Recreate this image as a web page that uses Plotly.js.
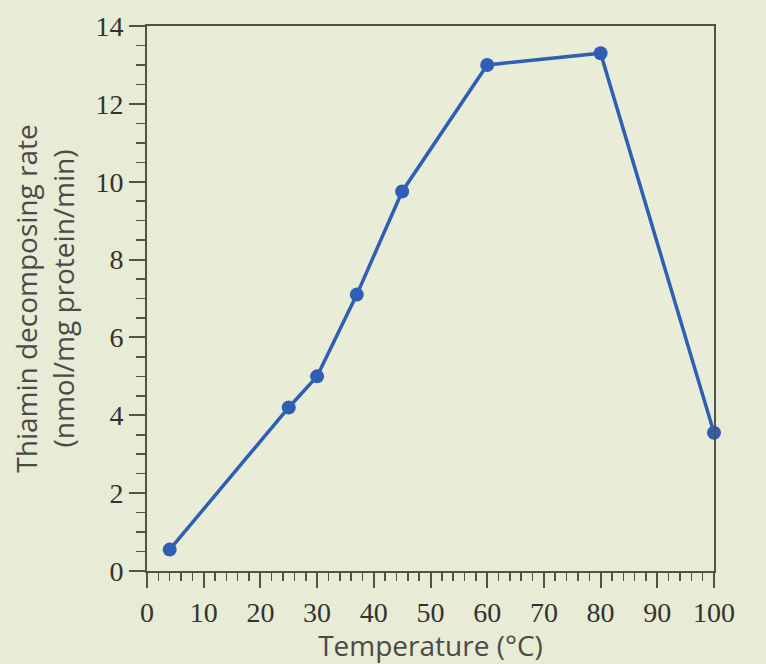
<!DOCTYPE html>
<html>
<head>
<meta charset="utf-8">
<script src="https://cdn.plot.ly/plotly-3.0.1.min.js"></script>
<style>html,body{margin:0;padding:0;background:#e8ebd5;}#chart{width:766px;height:664px;}</style>
</head>
<body>
<div id="chart"></div>
<script>
const temperature = [4, 25, 30, 37, 45, 60, 80, 100];
const rate = [0.55, 4.2, 5.0, 7.1, 9.75, 13.0, 13.3, 3.55];
const xTickVals = [0, 10, 20, 30, 40, 50, 60, 70, 80, 90, 100];
const yTickVals = [0, 2, 4, 6, 8, 10, 12, 14];
const xTitle = 'Temperature (°C)';
const yTitle = 'Thiamin decomposing rate<br>(nmol/mg protein/min)';

const axisColor = '#4f5449';
const tickFont = {family: 'Liberation Serif, Times New Roman, serif', size: 28, color: '#33332f'};
const titleFont = {family: 'Open Sans, Noto Sans, sans-serif', size: 28, color: '#4a4a46'};

const trace = {
  x: temperature, y: rate, type: 'scatter', mode: 'lines+markers',
  line: {color: '#2f5fb4', width: 3.5},
  marker: {color: '#2f5fb4', size: 14},
  cliponaxis: false, hoverinfo: 'skip'
};

const layout = {
  width: 766, height: 664,
  paper_bgcolor: '#e8ebd5', plot_bgcolor: '#e9ecd7',
  margin: {l: 147, r: 52, t: 26, b: 93},
  showlegend: false,
  xaxis: {
    range: [0, 100], tickmode: 'array', tickvals: xTickVals,
    ticks: 'outside', ticklen: 15, tickwidth: 2, tickcolor: axisColor,
    minor: {dtick: 2, ticks: 'outside', ticklen: 8, tickwidth: 1.5, tickcolor: axisColor, showgrid: false},
    showline: true, linecolor: axisColor, linewidth: 2, mirror: true,
    showgrid: false, zeroline: false, tickfont: tickFont,
    title: {text: xTitle, font: titleFont, standoff: 1}
  },
  yaxis: {
    range: [0, 14], tickmode: 'array', tickvals: yTickVals,
    ticks: 'outside', ticklen: 16, tickwidth: 2, tickcolor: axisColor,
    minor: {dtick: 0.5, ticks: 'outside', ticklen: 9, tickwidth: 1.5, tickcolor: axisColor, showgrid: false},
    showline: true, linecolor: axisColor, linewidth: 2, mirror: true,
    showgrid: false, zeroline: false, tickfont: tickFont,
    title: {text: yTitle, font: titleFont, standoff: 13}
  }
};

Plotly.newPlot('chart', [trace], layout, {displayModeBar: false, staticPlot: true});
</script>
</body>
</html>
